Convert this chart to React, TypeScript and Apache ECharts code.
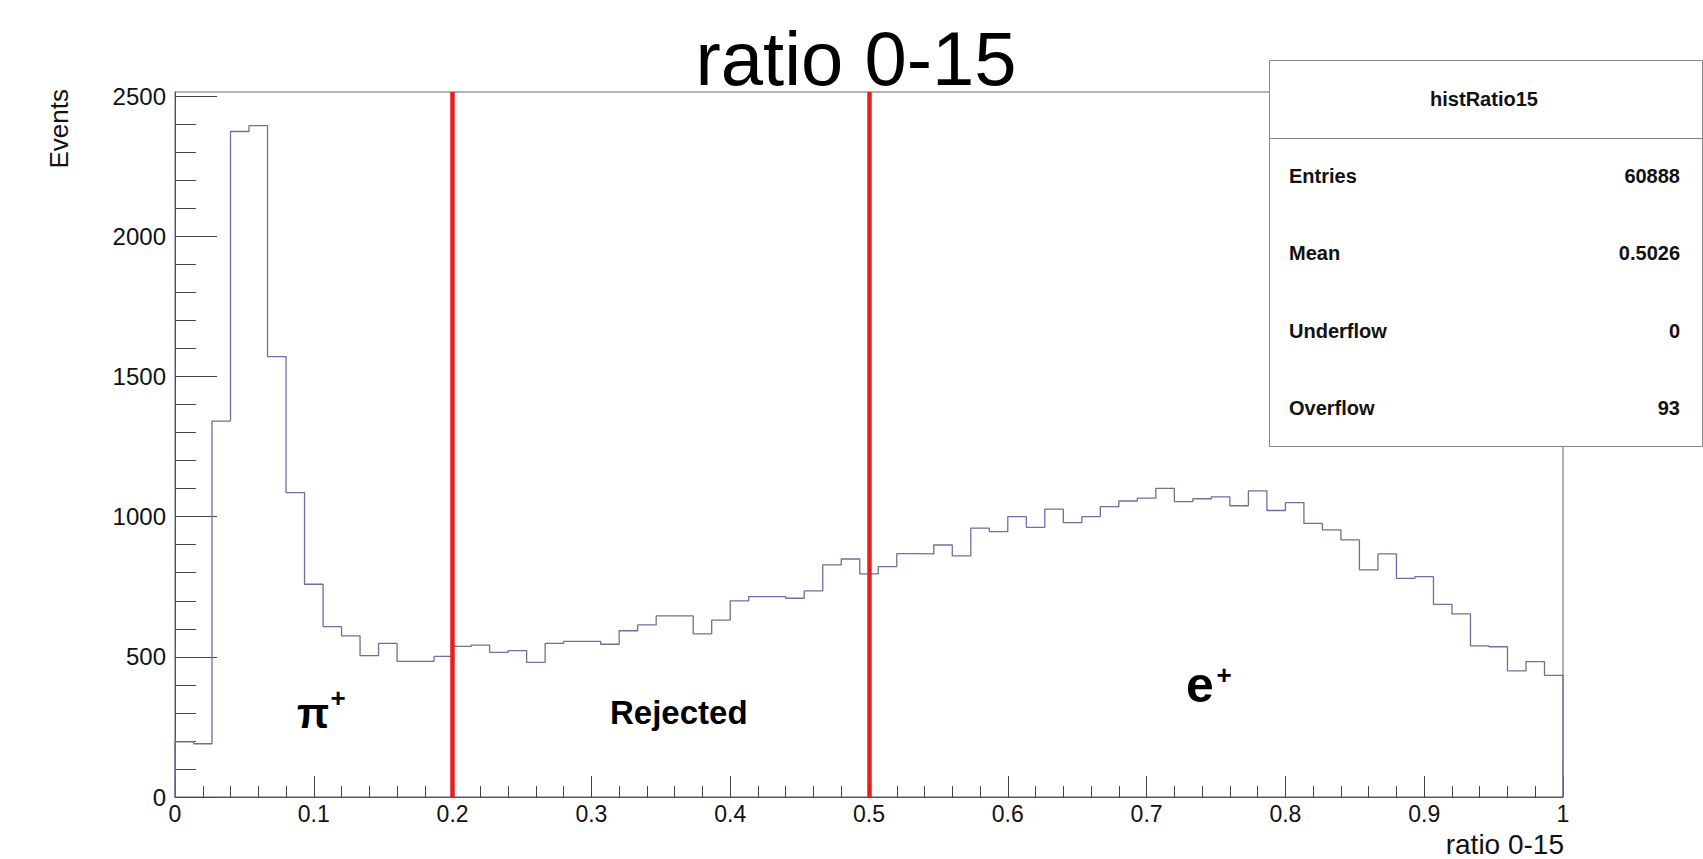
import React, { useEffect, useRef } from 'react';
import * as echarts from 'echarts';

// ---------- data ----------
const xMin = 0;
const xMax = 1;
const counts = [
  197, 190, 1341, 2374, 2395, 1571, 1086, 759, 608, 575,
  504, 548, 484, 484, 502, 537, 542, 516, 522, 480,
  548, 555, 555, 545, 593, 614, 646, 646, 582, 631,
  700, 715, 715, 709, 735, 828, 849, 796, 822, 868,
  867, 899, 860, 959, 947, 1000, 962, 1027, 979, 1000,
  1036, 1056, 1066, 1101, 1054, 1064, 1071, 1039, 1092, 1022,
  1050, 976, 953, 917, 810, 867, 780, 786, 687, 653,
  539, 536, 450, 483, 434,
];
const cutValues = [0.2, 0.5];
const yMax = 2515;
const yMajorTicks = [0, 500, 1000, 1500, 2000, 2500];
const yMinorStep = 100;
const xTickInterval = 0.1;

const titleText = 'ratio 0-15';
const xAxisTitle = 'ratio 0-15';
const yAxisTitle = 'Events';
const statsTitle = 'histRatio15';
const statsNames = ['Entries', 'Mean', 'Underflow', 'Overflow'];
const statsValues = ['60888', '0.5026', '0', '93'];

// ---------- helpers ----------
const FONT = 'Liberation Sans';
const binWidth = (xMax - xMin) / counts.length;
const stepData: number[][] = [[xMin, 0]];
counts.forEach((c, i) => stepData.push([xMin + i * binWidth, c]));
stepData.push([xMax, counts[counts.length - 1]]);
stepData.push([xMax, 0]);

const yMinorTicks: number[] = [];
for (let v = 0; v <= yMajorTicks[yMajorTicks.length - 1]; v += yMinorStep) {
  if (!yMajorTicks.includes(v)) yMinorTicks.push(v);
}

const boxX = 1269.5;
const boxY = 60.5;
const boxW = 433;
const boxH = 386;
const rowY0 = 176;
const rowStep = 77.3;

const option: any = {
  animation: false,
  backgroundColor: '#fff',
  textStyle: { fontFamily: FONT },
  grid: {
    left: 175,
    right: 140,
    top: 92,
    bottom: 62,
    show: true,
    borderColor: '#666',
    borderWidth: 1,
    backgroundColor: '#fff',
  },
  xAxis: {
    type: 'value',
    min: xMin,
    max: xMax,
    interval: xTickInterval,
    axisLine: { show: true, lineStyle: { color: '#555', width: 1 } },
    axisTick: { show: true, inside: true, length: 21, lineStyle: { color: '#444' } },
    minorTick: { show: true, splitNumber: 5, length: 11, lineStyle: { color: '#444' } },
    axisLabel: { fontSize: 23, color: '#111', margin: 5, fontFamily: FONT, formatter: (v: number) => String(v) },
    splitLine: { show: false },
  },
  yAxis: [
    {
      type: 'value',
      min: 0,
      max: yMax,
      position: 'left',
      axisLine: { show: true, lineStyle: { color: '#555', width: 1 } },
      axisTick: { show: true, inside: true, length: 42, customValues: yMajorTicks, lineStyle: { color: '#444' } },
      axisLabel: {
        fontSize: 24, color: '#111', margin: 9, customValues: yMajorTicks, fontFamily: FONT,
        formatter: (v: number) => String(v),
      },
      splitLine: { show: false },
    },
    {
      type: 'value',
      min: 0,
      max: yMax,
      position: 'left',
      axisLine: { show: false },
      axisTick: { show: true, inside: true, length: 21, customValues: yMinorTicks, lineStyle: { color: '#444' } },
      axisLabel: { show: false },
      splitLine: { show: false },
    },
  ],
  series: [
    {
      type: 'line',
      step: 'end',
      data: stepData,
      xAxisIndex: 0,
      yAxisIndex: 0,
      symbol: 'none',
      lineStyle: { color: '#6e6ea2', width: 1.3 },
      z: 3,
      markLine: {
        silent: true,
        symbol: ['none', 'none'],
        label: { show: false },
        lineStyle: { color: '#ec1c1c', width: 4.5, type: 'solid' },
        data: cutValues.map((v) => ({ xAxis: v })),
      },
    },
  ],
  graphic: [
    {
      type: 'text', x: 856, y: 58, z: 50,
      style: { text: titleText, align: 'center', verticalAlign: 'middle', fontSize: 76, fontFamily: FONT, fill: '#000' },
    },
    {
      type: 'text', x: 59, y: 89, rotation: Math.PI / 2, z: 50,
      style: { text: yAxisTitle, align: 'right', verticalAlign: 'middle', fontSize: 26, fontFamily: FONT, fill: '#111' },
    },
    {
      type: 'text', x: 1564, y: 844, z: 50,
      style: { text: xAxisTitle, align: 'right', verticalAlign: 'middle', fontSize: 28, fontFamily: FONT, fill: '#111' },
    },
    // region labels
    {
      type: 'text', x: 297, y: 713, z: 50,
      style: { text: 'π', align: 'left', verticalAlign: 'middle', fontSize: 42, fontWeight: 'bold', fontFamily: FONT, fill: '#000' },
    },
    {
      type: 'text', x: 338, y: 698, z: 50,
      style: { text: '+', align: 'center', verticalAlign: 'middle', fontSize: 26, fontWeight: 'bold', fontFamily: FONT, fill: '#000' },
    },
    {
      type: 'text', x: 610, y: 712, z: 50,
      style: { text: 'Rejected', align: 'left', verticalAlign: 'middle', fontSize: 33, fontWeight: 'bold', fontFamily: FONT, fill: '#000' },
    },
    {
      type: 'text', x: 1186, y: 685, z: 50,
      style: { text: 'e', align: 'left', verticalAlign: 'middle', fontSize: 50, fontWeight: 'bold', fontFamily: FONT, fill: '#000' },
    },
    {
      type: 'text', x: 1224, y: 675, z: 50,
      style: { text: '+', align: 'center', verticalAlign: 'middle', fontSize: 26, fontWeight: 'bold', fontFamily: FONT, fill: '#000' },
    },
    // stats box
    {
      type: 'rect', z: 100,
      shape: { x: boxX, y: boxY, width: boxW, height: boxH },
      style: { fill: '#fff', stroke: '#888', lineWidth: 1 },
    },
    {
      type: 'line', z: 101,
      shape: { x1: boxX, y1: 138.5, x2: boxX + boxW, y2: 138.5 },
      style: { stroke: '#888', lineWidth: 1 },
    },
    {
      type: 'text', x: 1484, y: 99, z: 102,
      style: { text: statsTitle, align: 'center', verticalAlign: 'middle', fontSize: 20, fontWeight: 'bold', fontFamily: FONT, fill: '#111' },
    },
    ...statsNames.map((n, i) => ({
      type: 'text', x: 1289, y: rowY0 + i * rowStep, z: 102,
      style: { text: n, align: 'left', verticalAlign: 'middle', fontSize: 20, fontWeight: 'bold', fontFamily: FONT, fill: '#111' },
    })),
    ...statsValues.map((v, i) => ({
      type: 'text', x: 1680, y: rowY0 + i * rowStep, z: 102,
      style: { text: v, align: 'right', verticalAlign: 'middle', fontSize: 20, fontWeight: 'bold', fontFamily: FONT, fill: '#111' },
    })),
  ],
};

export default function App() {
  const ref = useRef<HTMLDivElement>(null);
  useEffect(() => {
    if (!ref.current) return;
    const chart = echarts.init(ref.current, null, { renderer: 'svg' });
    chart.setOption(option);
    return () => chart.dispose();
  }, []);
  return (
    <div
      ref={ref}
      style={{ position: 'fixed', left: 0, top: 0, width: 1703, height: 859, background: '#fff' }}
    />
  );
}
